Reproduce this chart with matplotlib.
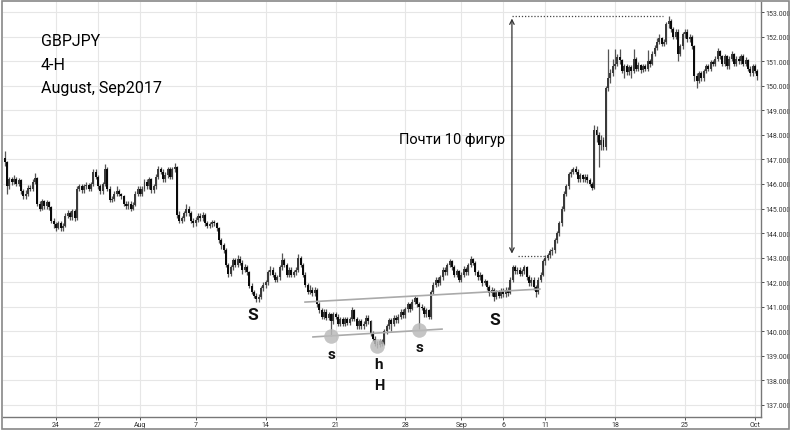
import numpy as np
import pandas as pd
import matplotlib
matplotlib.use("Agg")
import matplotlib.pyplot as plt
from matplotlib.patches import Rectangle

# GBPJPY 4-H bars, Jul 18 08:00 .. Oct 2 (one row per trading day)
first_open = 147.05
close = [
    146.9, 145.9, 146.2, 146.1,
    146.2, 146.0, 146.15, 145.7, 145.5, 145.6,
    145.85, 145.8, 146.1, 146.25, 145.2, 145.0,
    145.3, 145.1, 145.25, 145.05, 144.5, 144.35,
    144.2, 144.4, 144.2, 144.3, 144.7, 144.8,
    144.65, 144.9, 144.6, 145.8, 145.9, 145.75,
    145.9, 145.95, 145.8, 146.0, 146.5, 146.3,
    145.9, 145.7, 146.0, 146.6, 145.8, 145.35,
    145.4, 145.6, 145.7, 145.6, 145.5, 145.2,
    145.1, 145.2, 145.0, 145.15, 145.6, 145.8,
    145.6, 145.8, 146.1, 145.9, 146.2, 145.75,
    145.9, 146.3, 146.6, 146.5, 146.2, 146.35,
    146.6, 146.3, 146.6, 146.7, 144.75, 144.5,
    144.6, 144.8, 145.0, 144.8, 144.5, 144.4,
    144.55, 144.7, 144.6, 144.75, 144.4, 144.3,
    144.35, 144.45, 144.4, 144.2, 143.7, 143.5,
    143.3, 142.7, 142.35, 142.6, 142.9, 142.7,
    142.95, 142.8, 142.5, 142.6, 142.4, 141.85,
    141.6, 141.45, 141.3, 141.4, 141.75, 141.9,
    142.0, 142.4, 142.5, 142.3, 142.1, 142.2,
    142.6, 142.9, 142.7, 142.3, 142.5, 142.3,
    142.4, 142.5, 143.0, 142.7, 142.3, 141.9,
    141.6, 141.7, 141.55, 141.7, 141.1, 140.85,
    140.6, 140.8, 140.55, 140.7, 140.4, 140.7,
    140.6, 140.3, 140.5, 140.3, 140.5, 140.35,
    140.5, 140.85, 140.5, 140.2, 140.4, 140.2,
    140.3, 140.55, 140.4, 139.9, 139.7, 139.5,
    139.45, 139.6, 139.5, 140.0, 140.2, 140.45,
    140.3, 140.55, 140.45, 140.6, 140.8, 140.65,
    140.9, 141.1, 140.9, 141.2, 141.35, 141.1,
    141.0, 140.95, 140.7, 140.85, 140.6, 141.6,
    141.9, 142.1, 141.95, 142.2, 142.5, 142.4,
    142.7, 142.85, 142.6, 142.3, 142.45, 142.1,
    142.3, 142.55, 142.4, 142.7, 142.95, 142.8,
    142.4, 142.2, 142.3, 141.95, 142.05, 141.8,
    141.55, 141.7, 141.4, 141.6, 141.45, 141.65,
    141.5, 141.7, 141.55, 142.1, 142.6, 142.45,
    142.5, 142.35, 142.45, 142.6, 142.2, 141.95,
    142.1, 141.8, 141.6, 142.1, 142.3, 142.85,
    143.0, 143.1, 143.25, 143.3, 143.7, 144.0,
    144.4, 145.0, 145.6, 145.9, 146.4, 146.5,
    146.6, 146.5, 146.2, 146.35, 146.2, 146.3,
    146.15, 146.0, 145.85, 148.2, 148.0, 147.6,
    147.8, 147.5, 149.9, 150.3, 150.5, 150.8,
    150.9, 151.15, 151.05, 150.6, 150.8, 150.55,
    150.75, 150.6, 151.1, 150.7, 150.85, 150.65,
    150.8, 150.7, 151.0, 150.9, 151.3, 151.55,
    151.8, 151.95, 151.7, 151.8, 152.5, 152.65,
    152.3, 152.0, 152.2, 151.3, 151.6, 152.1,
    152.2, 151.9, 152.0, 151.6, 150.4, 150.2,
    150.5, 150.3, 150.6, 150.8, 150.7, 150.95,
    150.9, 151.1, 151.4, 151.2, 150.9, 151.2,
    150.8, 151.1, 151.3, 150.9, 151.1, 151.0,
    151.2, 150.9, 151.05, 150.7, 150.5, 150.8,
    150.6, 150.4,
]
high = [
    147.35, 146.95, 146.3, 146.3,
    146.35, 146.3, 146.25, 146.2, 145.8, 145.75,
    145.95, 145.95, 146.2, 146.45, 146.3, 145.3,
    145.4, 145.35, 145.35, 145.3, 145.1, 144.6,
    144.45, 144.5, 144.5, 144.4, 144.8, 144.95,
    144.9, 145.0, 145.0, 145.9, 146.0, 146.0,
    146.0, 146.1, 146.05, 146.1, 146.6, 146.6,
    146.35, 146.0, 146.1, 146.8, 146.7, 145.9,
    145.5, 145.7, 145.9, 145.8, 145.65, 145.55,
    145.3, 145.3, 145.3, 145.25, 145.7, 145.9,
    145.9, 145.9, 146.2, 146.2, 146.3, 146.25,
    146.0, 146.4, 146.75, 146.7, 146.6, 146.5,
    146.7, 146.7, 146.7, 146.85, 146.75, 144.9,
    144.7, 144.9, 145.2, 145.1, 144.9, 144.6,
    144.65, 144.8, 144.8, 144.85, 144.8, 144.5,
    144.45, 144.55, 144.55, 144.45, 144.25, 143.8,
    143.6, 143.4, 142.8, 142.7, 143.0, 143.0,
    143.1, 143.05, 142.9, 142.75, 142.7, 142.45,
    141.95, 141.7, 141.55, 141.5, 141.85, 142.0,
    142.1, 142.5, 142.65, 142.6, 142.4, 142.3,
    142.7, 143.2, 143.0, 142.8, 142.6, 142.6,
    142.5, 142.6, 143.15, 143.05, 142.8, 142.4,
    141.95, 141.9, 141.8, 141.8, 141.75, 141.2,
    140.95, 140.9, 140.9, 140.8, 140.75, 140.8,
    140.8, 140.7, 140.6, 140.6, 140.6, 140.6,
    140.6, 141.0, 140.9, 140.6, 140.5, 140.5,
    140.4, 140.65, 140.65, 140.45, 140.0, 139.8,
    139.6, 139.7, 139.7, 140.1, 140.3, 140.55,
    140.55, 140.65, 140.65, 140.7, 140.9, 140.9,
    141.0, 141.2, 141.15, 141.3, 141.45, 141.4,
    141.2, 141.1, 141.05, 140.95, 140.9, 141.7,
    142.0, 142.2, 142.2, 142.3, 142.6, 142.6,
    142.8, 142.95, 142.9, 142.7, 142.55, 142.5,
    142.4, 142.65, 142.6, 142.8, 143.05, 143.0,
    142.85, 142.5, 142.4, 142.35, 142.15, 142.1,
    141.9, 141.8, 141.75, 141.7, 141.7, 141.75,
    141.75, 141.8, 141.8, 142.2, 142.7, 142.7,
    142.6, 142.6, 142.55, 142.7, 142.65, 142.3,
    142.2, 142.2, 141.9, 142.2, 142.4, 142.95,
    143.1, 143.2, 143.35, 143.45, 143.8, 144.1,
    144.5, 145.1, 145.7, 146.0, 146.5, 146.6,
    146.7, 146.75, 146.6, 146.45, 146.4, 146.4,
    146.4, 146.25, 146.1, 148.4, 148.35, 148.1,
    148.0, 147.9, 150.0, 151.5, 150.7, 151.1,
    151.5, 151.3, 151.5, 151.1, 150.9, 150.9,
    150.85, 150.85, 151.5, 151.15, 150.95, 150.9,
    150.9, 150.9, 151.45, 151.1, 151.4, 151.65,
    151.95, 152.1, 152.0, 151.9, 152.6, 152.85,
    152.7, 152.4, 152.3, 152.3, 151.7, 152.2,
    152.3, 152.3, 152.1, 152.05, 151.65, 150.5,
    150.6, 150.6, 150.7, 150.9, 150.9, 151.05,
    151.05, 151.2, 151.55, 151.45, 151.25, 151.3,
    151.25, 151.2, 151.4, 151.35, 151.2, 151.2,
    151.3, 151.3, 151.15, 151.1, 150.8, 150.9,
    150.9, 150.7,
]
low = [
    146.75, 145.6, 145.8, 145.95,
    146.0, 145.9, 145.9, 145.6, 145.4, 145.4,
    145.5, 145.7, 145.7, 146.0, 145.1, 144.9,
    144.95, 145.0, 145.0, 144.95, 144.4, 144.2,
    144.1, 144.15, 144.1, 144.1, 144.25, 144.6,
    144.55, 144.55, 144.5, 144.55, 145.7, 145.65,
    145.65, 145.8, 145.7, 145.7, 145.9, 146.2,
    145.8, 145.6, 145.6, 145.9, 145.7, 145.25,
    145.25, 145.3, 145.5, 145.5, 145.4, 145.1,
    145.0, 145.0, 144.9, 144.95, 145.1, 145.5,
    145.5, 145.5, 145.7, 145.8, 145.8, 145.65,
    145.65, 145.8, 146.2, 146.4, 146.1, 146.1,
    146.25, 146.2, 146.2, 146.5, 144.6, 144.4,
    144.4, 144.5, 144.7, 144.7, 144.4, 144.25,
    144.3, 144.45, 144.5, 144.5, 144.3, 144.2,
    144.2, 144.25, 144.3, 144.1, 143.6, 143.35,
    143.2, 142.6, 142.2, 142.25, 142.5, 142.6,
    142.6, 142.7, 142.35, 142.4, 142.3, 141.75,
    141.5, 141.35, 141.2, 141.2, 141.3, 141.65,
    141.75, 141.9, 142.3, 142.2, 142.0, 142.0,
    142.1, 142.5, 142.6, 142.2, 142.2, 142.2,
    142.2, 142.3, 142.4, 142.6, 142.2, 141.8,
    141.5, 141.5, 141.45, 141.45, 141.0, 140.75,
    140.5, 140.5, 140.45, 140.45, 139.8, 140.3,
    140.5, 140.2, 140.2, 140.2, 140.2, 140.25,
    140.25, 140.4, 140.4, 140.1, 140.1, 140.1,
    140.1, 140.2, 140.3, 139.8, 139.6, 139.4,
    139.3, 139.35, 139.4, 139.45, 139.9, 140.1,
    140.0, 140.2, 140.35, 140.35, 140.5, 140.55,
    140.55, 140.8, 140.8, 140.85, 141.1, 141.0,
    140.1, 140.85, 140.6, 140.6, 140.5, 140.5,
    141.5, 141.8, 141.85, 141.9, 142.1, 142.3,
    142.3, 142.6, 142.5, 142.2, 142.2, 142.0,
    142.0, 142.2, 142.3, 142.3, 142.6, 142.7,
    142.3, 142.1, 142.1, 141.85, 141.9, 141.7,
    141.45, 141.45, 141.25, 141.3, 141.35, 141.35,
    141.4, 141.4, 141.45, 141.5, 142.0, 142.35,
    142.35, 142.25, 142.25, 142.35, 142.1, 141.85,
    141.85, 141.7, 141.4, 141.5, 142.0, 142.25,
    142.7, 142.9, 143.0, 143.1, 143.2, 143.6,
    143.9, 144.3, 144.9, 145.5, 145.8, 146.3,
    146.4, 146.4, 146.1, 146.1, 146.1, 146.1,
    146.05, 145.9, 145.75, 145.8, 147.7, 146.7,
    147.4, 147.4, 147.4, 149.8, 150.1, 150.4,
    150.7, 150.8, 150.9, 150.5, 150.3, 150.45,
    150.45, 150.3, 150.5, 150.6, 150.6, 150.5,
    150.55, 150.6, 150.6, 150.75, 150.85, 151.2,
    151.45, 151.7, 151.6, 151.6, 151.7, 152.35,
    152.2, 151.9, 151.9, 151.0, 151.2, 151.5,
    151.95, 151.8, 151.8, 151.5, 150.2, 149.9,
    150.1, 150.2, 150.2, 150.5, 150.6, 150.6,
    150.8, 150.8, 151.0, 151.1, 150.8, 150.8,
    150.7, 150.7, 151.0, 150.8, 150.8, 150.9,
    150.9, 150.8, 150.8, 150.6, 150.4, 150.4,
    150.5, 150.25,
]

tick_dates = ["2017-07-24", "2017-07-27", "2017-08-01", "2017-08-07", "2017-08-14",
              "2017-08-21", "2017-08-28", "2017-09-01", "2017-09-06", "2017-09-11",
              "2017-09-18", "2017-09-25", "2017-10-02"]
tick_labels = ["24", "27", "Aug", "7", "14", "21", "28", "Sep", "6", "11", "18", "25", "Oct"]

# pattern annotations
peak_level = 152.85
base_level = 143.05
upper_neck = [(128.9, 141.19), (229.7, 141.72)]
lower_neck = [(132.3, 139.77), (187.7, 140.09)]
circle_bars = [140.0, 159.8, 177.8]
circle_prices = [139.8, 139.4, 140.05]

# build bar times (weekdays, 4 hour bars) and index positions
days = pd.bdate_range("2017-07-18", "2017-10-02")
times = [d + pd.Timedelta(hours=h) for d in days for h in range(0, 24, 4)]
times = times[2:2 + len(close)]
df = pd.DataFrame({"time": times, "close": close, "high": high, "low": low})
df["open"] = df["close"].shift(1).fillna(first_open)
x = np.arange(len(df))
tick_pos = [times.index(pd.Timestamp(d)) for d in tick_dates]

fig = plt.figure(figsize=(7.9, 4.31), dpi=100)
ax = fig.add_axes([3 / 790, 13 / 431, 758 / 790, 415 / 431])

up = df["close"] >= df["open"]
ax.vlines(x, df["low"], df["high"], color="#555555", lw=0.9, zorder=3)
body_low = np.minimum(df["open"], df["close"])
body_h = np.maximum(np.abs(df["close"] - df["open"]), 0.05)
ax.bar(x[up], body_h[up], bottom=body_low[up], width=0.85, color="#3a3a3a", lw=0, zorder=4)
ax.bar(x[~up], body_h[~up], bottom=body_low[~up], width=0.85, color="#0a0a0a", lw=0, zorder=4)

ax.set_xlim(-0.73, 324.6)
ax.set_ylim(136.51, 153.41)

ax.set_xticks(tick_pos)
ax.set_xticklabels(tick_labels)
ax.set_yticks(np.arange(137, 154))
ax.set_yticklabels([f"{v:.3f}" for v in np.arange(137, 154)])
ax.yaxis.tick_right()
ax.tick_params(axis="both", labelsize=5, colors="#333333", length=2, width=0.6, pad=1)
for t in ax.get_xticklabels() + ax.get_yticklabels():
    t.set_family(["Roboto", "DejaVu Sans"])
ax.grid(True, color="#e6e6e6", lw=0.8, zorder=0)
for side in ["left", "top"]:
    ax.spines[side].set_visible(False)
for side in ["right", "bottom"]:
    ax.spines[side].set_color("#777777")
    ax.spines[side].set_linewidth(1.0)

# necklines and shoulder circles
ax.plot(*zip(*upper_neck), color="#aaaaaa", lw=1.2, zorder=5)
ax.plot(*zip(*lower_neck), color="#aaaaaa", lw=1.2, zorder=5)
ax.scatter(circle_bars, circle_prices, s=110, color="#bbbbbb", alpha=0.85, lw=0, zorder=6)

# target move
ax.annotate("", xy=(217.7, base_level), xytext=(217.7, peak_level),
            arrowprops=dict(arrowstyle="<->", color="#333333", lw=0.9,
                            mutation_scale=8), zorder=6)
ax.plot([217.7, 282.5], [peak_level, peak_level], color="#444444", lw=0.9, ls=(0, (1, 1.5)))
ax.plot([220.3, 232.0], [base_level, base_level], color="#444444", lw=0.9, ls=(0, (1, 1.5)))

font = ["Roboto", "DejaVu Sans"]
ax.text(192.0, 147.83, "Почти 10 фигур", fontsize=10.5, family=font, ha="center", va="center")

lab = dict(family=font, fontweight="bold", ha="center", va="center", color="#111111")
ax.text(106.6, 140.70, "S", fontsize=12.5, **lab)
ax.text(210.4, 140.50, "S", fontsize=12.5, **lab)
ax.text(140.5, 139.07, "s", fontsize=11, **lab)
ax.text(178.2, 139.36, "s", fontsize=11, **lab)
ax.text(160.6, 138.67, "h", fontsize=11, **lab)
ax.text(160.6, 137.81, "H", fontsize=10.5, **lab)

fig.text(41 / 790, 1 - 42 / 431, "GBPJPY", fontsize=11.5, family=font, va="center")
fig.text(41 / 790, 1 - 66 / 431, "4-H", fontsize=11.5, family=font, va="center")
fig.text(41 / 790, 1 - 88 / 431, "August, Sep2017", fontsize=11.5, family=font, va="center")

# outer frame
fig.patches.append(Rectangle((1.5 / 790, 1.0 / 431), 787 / 790, 428.5 / 431,
                             transform=fig.transFigure, fill=False,
                             edgecolor="#888888", lw=1.2))

fig.savefig("out.png", dpi=100)
